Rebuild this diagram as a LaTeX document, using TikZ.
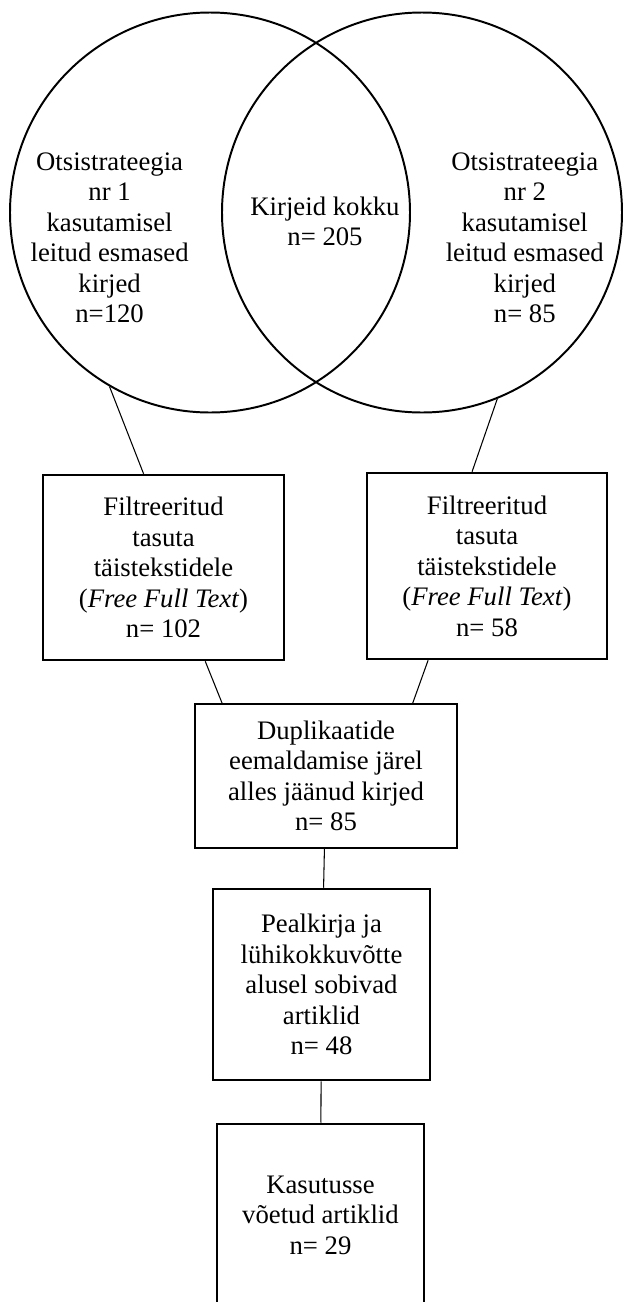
\documentclass[tikz,border=0pt]{standalone}
\usepackage{fontspec}
\setmainfont{Liberation Serif}
\usetikzlibrary{positioning,calc}

\begin{document}
\begin{tikzpicture}[
    venn/.style={draw, circle, minimum size=10cm, inner sep=0pt, line width=1.4pt},
    venntext/.style={align=center, font=\fontsize{19}{21.7}\selectfont},
    block/.style={draw, rectangle, align=center, inner sep=0pt, line width=1.8pt, font=\fontsize{19}{21.7}\selectfont},
    thinblock/.style={block, line width=1pt},
    edge/.style={draw=black, line width=0.75pt},
]

\clip (0, 0) rectangle (15.575, -32.55);

% Search strategies
\node[venn] (left) at (5.25, -5.3125) {};
\node[venn] (right) at (10.55, -5.3125) {};

\node[venntext] (lefttext) at (2.74, -5.95) {Otsistrateegia\\nr 1\\kasutamisel\\leitud esmased\\kirjed\\n=120};
\node[venntext] (midtext) at (8.125, -5.54) {Kirjeid kokku\\n= 205};
\node[venntext] (righttext) at (13.12, -5.95) {Otsistrateegia\\nr 2\\kasutamisel\\leitud esmased\\kirjed\\n= 85};

% Free full text
\node[block, minimum width=6.025cm, minimum height=4.625cm] (free1) at (4.0875, -14.1875)
  {Filtreeritud\\tasuta\\täistekstidele\\(\textit{Free Full Text})\\n= 102};
\node[block, minimum width=6.0cm, minimum height=4.65cm] (free2) at (12.175, -14.15)
  {Filtreeritud\\tasuta\\täistekstidele\\(\textit{Free Full Text})\\n= 58};

% Duplicates removed
\node[thinblock, minimum width=6.55cm, minimum height=3.6cm] (dup) at (8.15, -19.4)
  {Duplikaatide\\eemaldamise järel\\alles jäänud kirjed\\n= 85};

% Title and abstract
\node[block, minimum width=5.425cm, minimum height=4.775cm] (abstr) at (8.0375, -24.6125)
  {Pealkirja ja\\lühikokkuvõtte\\alusel sobivad\\artiklid\\n= 48};

% Used articles
\node[block, minimum width=5.175cm, minimum height=4.55cm] (used) at (8.0125, -30.375)
  {Kasutusse\\võetud artiklid\\n= 29};

\draw[edge] (left.240) -- (free1.102);
\draw[edge] (right.292) -- (free2.99);
\draw[edge] (free1.294) -- (dup.145);
\draw[edge] (free2.238) -- (dup.40);
\draw[edge] (dup) -- (abstr);
\draw[edge] (abstr) -- (used);

\end{tikzpicture}
\end{document}
